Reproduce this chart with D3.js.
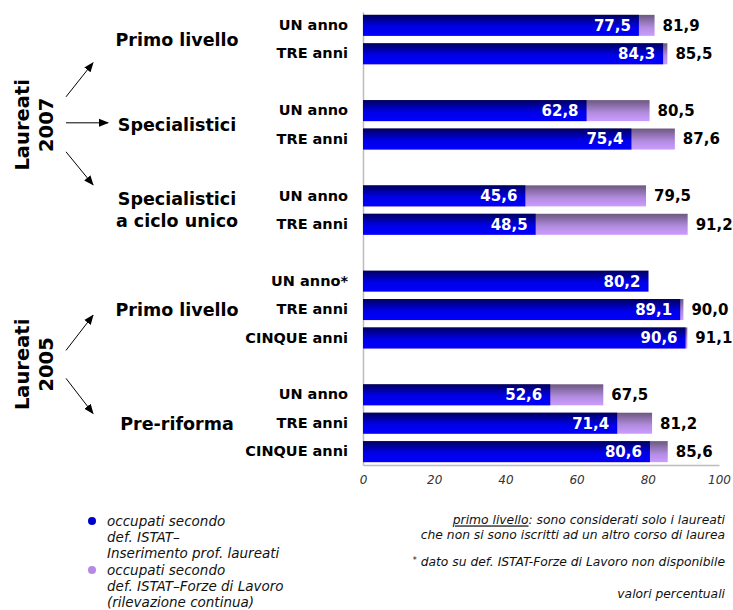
<!DOCTYPE html>
<html>
<head>
<meta charset="utf-8">
<script src="https://cdn.jsdelivr.net/npm/d3@7"></script>
<style>
  html, body { margin: 0; padding: 0; background: #fff; }
  svg { display: block; font-family: "DejaVu Sans", Verdana, sans-serif; }
</style>
</head>
<body>
<div id="chart"></div>
<script>
// Row labels (one per bar), top to bottom
const rowLabels = ["UN anno", "TRE anni", "UN anno", "TRE anni", "UN anno", "TRE anni",
                   "UN anno*", "TRE anni", "CINQUE anni", "UN anno", "TRE anni", "CINQUE anni"];
// Group each row belongs to
const rowGroup = [0, 0, 1, 1, 2, 2, 3, 3, 3, 4, 4, 4];
// Group titles (multi-line where needed)
const groupNames = [["Primo livello"], ["Specialistici"], ["Specialistici", "a ciclo unico"],
                    ["Primo livello"], ["Pre-riforma"]];
// Cohorts: which groups they cover
const cohortNames = [["Laureati", "2007"], ["Laureati", "2005"]];
const cohortGroups = [[0, 1, 2], [3, 4]];
// Occupied according to ISTAT – Inserimento professionale laureati (%)
const istatIPL = [77.5, 84.3, 62.8, 75.4, 45.6, 48.5, 80.2, 89.1, 90.6, 52.6, 71.4, 80.6];
// Occupied according to ISTAT – Forze di Lavoro (%), null where not available
const istatFL = [81.9, 85.5, 80.5, 87.6, 79.5, 91.2, null, 90.0, 91.1, 67.5, 81.2, 85.6];
// X axis ticks
const xTicks = [0, 20, 40, 60, 80, 100];

const legendLines = [
  ["occupati secondo", "def. ISTAT\u2013", "Inserimento prof. laureati"],
  ["occupati secondo", "def. ISTAT\u2013Forze di Lavoro", "(rilevazione continua)"]
];

const W = 733, H = 610;
const fmt = v => d3.format(".1f")(v).replace(".", ",");

const svg = d3.select("#chart").append("svg").attr("width", W).attr("height", H);

// gradients for the bars
const defs = svg.append("defs");
const gBlue = defs.append("linearGradient").attr("id", "gBlue").attr("x1", 0).attr("y1", 0).attr("x2", 0).attr("y2", 1);
gBlue.append("stop").attr("offset", "0%").attr("stop-color", "#00005e");
gBlue.append("stop").attr("offset", "55%").attr("stop-color", "#0000e6");
gBlue.append("stop").attr("offset", "100%").attr("stop-color", "#0000ff");
const gLilac = defs.append("linearGradient").attr("id", "gLilac").attr("x1", 0).attr("y1", 0).attr("x2", 0).attr("y2", 1);
gLilac.append("stop").attr("offset", "0%").attr("stop-color", "#6c5880");
gLilac.append("stop").attr("offset", "60%").attr("stop-color", "#b28ce0");
gLilac.append("stop").attr("offset", "100%").attr("stop-color", "#cc9cff");

// slot index: one empty slot between consecutive groups
const slotOf = rowLabels.map((_, i) => i + rowGroup[i]);
const nSlots = rowLabels.length + groupNames.length - 1;
const slotLabels = new Array(nSlots).fill("");
rowLabels.forEach((l, i) => { slotLabels[slotOf[i]] = l; });

const x = d3.scaleLinear().domain([0, 100]).range([363, 719]);
const y = d3.scaleBand().domain(d3.range(nSlots)).range([12, 465])
  .paddingInner(0.26).paddingOuter(0.1);
const bw = y.bandwidth();

// axes
const yAxis = svg.append("g").attr("transform", `translate(${x(0)},0)`)
  .call(d3.axisLeft(y).tickSize(0).tickPadding(15).tickFormat(i => slotLabels[i]));
yAxis.select(".domain").attr("stroke", "#bcbcbc").attr("stroke-width", 1.5);
yAxis.selectAll("text").attr("font-size", 14.5).attr("font-weight", "bold").attr("fill", "#000")
  .attr("font-family", "DejaVu Sans, Verdana, sans-serif");

const xAxis = svg.append("g").attr("transform", `translate(0,${y.range()[1]})`)
  .call(d3.axisBottom(x).tickValues(xTicks).tickSize(0).tickPadding(10));
xAxis.select(".domain").attr("stroke", "#bcbcbc").attr("stroke-width", 1.5);
xAxis.selectAll("text").attr("font-size", 12).attr("font-style", "italic").attr("fill", "#333")
  .attr("font-family", "DejaVu Sans, Verdana, sans-serif");

// bars
const rows = rowLabels.map((l, i) => ({ i, slot: slotOf[i], a: istatIPL[i], b: istatFL[i] }));
const bars = svg.append("g");
bars.selectAll("rect.fl").data(rows.filter(d => d.b != null)).join("rect")
  .attr("class", "fl")
  .attr("x", x(0)).attr("y", d => y(d.slot))
  .attr("width", d => x(d.b) - x(0)).attr("height", bw)
  .attr("fill", "url(#gLilac)");
bars.selectAll("rect.ipl").data(rows).join("rect")
  .attr("class", "ipl")
  .attr("x", x(0)).attr("y", d => y(d.slot))
  .attr("width", d => x(d.a) - x(0)).attr("height", bw)
  .attr("fill", "url(#gBlue)");

// value labels
bars.selectAll("text.in").data(rows).join("text")
  .attr("class", "in")
  .attr("x", d => x(d.a) - 8).attr("y", d => y(d.slot) + bw / 2)
  .attr("dy", "0.36em").attr("text-anchor", "end")
  .attr("font-size", 15).attr("font-weight", "bold").attr("fill", "#fff")
  .text(d => fmt(d.a));
bars.selectAll("text.out").data(rows.filter(d => d.b != null)).join("text")
  .attr("class", "out")
  .attr("x", d => x(d.b) + 8).attr("y", d => y(d.slot) + bw / 2)
  .attr("dy", "0.36em").attr("text-anchor", "start")
  .attr("font-size", 15).attr("font-weight", "bold").attr("fill", "#000")
  .text(d => fmt(d.b));

// group titles
const groupCenter = g => {
  const s = rows.filter(r => rowGroup[r.i] === g).map(r => r.slot);
  return (y(d3.min(s)) + y(d3.max(s)) + bw) / 2;
};
const gTitles = svg.append("g");
groupNames.forEach((lines, g) => {
  const cy = groupCenter(g);
  const t = gTitles.append("text").attr("x", 177).attr("text-anchor", "middle")
    .attr("font-size", 17.5).attr("font-weight", "bold").attr("fill", "#000");
  lines.forEach((ln, k) => {
    t.append("tspan").attr("x", 177)
      .attr("y", cy + (k - (lines.length - 1) / 2) * 22)
      .attr("dy", "0.36em").text(ln);
  });
});

// cohort labels (rotated) and arrows to their groups
defs.append("marker").attr("id", "arrow").attr("viewBox", "0 0 10 10")
  .attr("refX", 9).attr("refY", 5).attr("markerWidth", 10).attr("markerHeight", 10)
  .attr("markerUnits", "userSpaceOnUse").attr("orient", "auto")
  .append("path").attr("d", "M0,1 L10,5 L0,9 Z").attr("fill", "#000");

const cohortLayer = svg.append("g");
cohortNames.forEach((lines, c) => {
  const gs = cohortGroups[c];
  const cy = (groupCenter(gs[0]) + groupCenter(gs[gs.length - 1])) / 2 - (c === 1 ? 2 : 0);
  const t = cohortLayer.append("text")
    .attr("transform", `translate(34,${cy}) rotate(-90)`)
    .attr("text-anchor", "middle").attr("font-size", 19.5).attr("font-weight", "bold").attr("fill", "#000");
  lines.forEach((ln, k) => {
    t.append("tspan").attr("x", 0).attr("y", (k - 0.5) * 24).attr("dy", "0.36em").text(ln);
  });
  // arrows
  const arrows = gs.length === 3
    ? [[66, cy - 28, 93, cy - 62], [66, cy - 2, 108, cy - 2], [66, cy + 27, 93, cy + 60]]
    : [[66, cy - 14, 93, cy - 49], [66, cy + 14, 93, cy + 49]];
  arrows.forEach(a => {
    cohortLayer.append("line")
      .attr("x1", a[0]).attr("y1", a[1]).attr("x2", a[2]).attr("y2", a[3])
      .attr("stroke", "#000").attr("stroke-width", 1)
      .attr("marker-end", "url(#arrow)");
  });
});

// legend
const legend = svg.append("g");
const legendColors = ["#0000cc", "#b48ae6"];
legendLines.forEach((lines, k) => {
  const y0 = 521 + k * 49;
  legend.append("circle").attr("cx", 92).attr("cy", y0).attr("r", 4).attr("fill", legendColors[k]);
  lines.forEach((ln, j) => {
    legend.append("text").attr("x", 107).attr("y", y0 + j * 16.1).attr("dy", "0.34em")
      .attr("font-size", 13.5).attr("font-style", "italic").attr("fill", "#111").text(ln);
  });
});

// notes
const notes = svg.append("g").attr("font-size", 12.3).attr("font-style", "italic").attr("fill", "#111")
  .attr("text-anchor", "end");
const n1 = notes.append("text").attr("x", 725).attr("y", 520).attr("dy", "0.36em");
n1.append("tspan").attr("text-decoration", "underline").text("primo livello");
n1.append("tspan").text(": sono considerati solo i laureati");
notes.append("text").attr("x", 725).attr("y", 535).attr("dy", "0.36em")
  .text("che non si sono iscritti ad un altro corso di laurea");
const n3 = notes.append("text").attr("x", 725).attr("y", 565).attr("dy", "0.36em");
n3.append("tspan").attr("font-size", 8).attr("dy", "-0.3em").text("*");
n3.append("tspan").attr("dy", "0.3em").text(" dato su def. ISTAT-Forze di Lavoro non disponibile");
notes.append("text").attr("x", 725).attr("y", 594).attr("dy", "0.36em").text("valori percentuali");
</script>
</body>
</html>
